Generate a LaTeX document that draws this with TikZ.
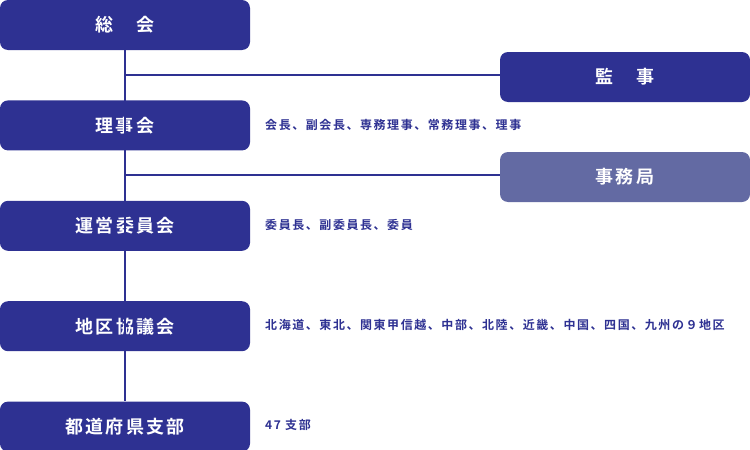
\documentclass[tikz,border=0pt]{standalone}
\usepackage{fontspec}
\usepackage{tikz}
\usetikzlibrary{positioning}
\newfontfamily\jpbold[LetterSpace=13]{Noto Sans CJK JP Bold}
\newfontfamily\jpnote[LetterSpace=13]{Noto Sans CJK JP Bold}
\definecolor{orgblue}{RGB}{46,49,146}
\definecolor{orglight}{RGB}{99,106,163}

\begin{document}
\begin{tikzpicture}[x=1pt, y=-1pt,
    orgbox/.style={rectangle, rounded corners=8pt, fill=orgblue, text=white,
        minimum width=250pt, minimum height=50pt, inner sep=0pt,
        font=\jpbold\fontsize{18}{18}\selectfont},
    note/.style={anchor=west, text=orgblue, inner sep=0pt,
        font=\jpnote\fontsize{12}{12}\selectfont},
    link/.style={draw=orgblue, line width=2pt}]
    % frame of the page
    \useasboundingbox (0,0) rectangle (750,450);

    % main column
    \node[orgbox] (sokai) at (125,25) {総　会};
    \node[orgbox, below=50pt of sokai] (rijikai) {理事会};
    \node[orgbox, below=50pt of rijikai] (unei) {運営委員会};
    \node[orgbox, below=50pt of unei] (chiku) {地区協議会};
    \node[orgbox, below=50pt of chiku] (shibu) {都道府県支部};

    % side boxes
    \node[orgbox] (kanji) at (625,77) {監　事};
    \node[orgbox, fill=orglight] (jimu) at (625,177) {事務局};

    % connectors
    \draw[link] (sokai.south) -- (shibu.north);
    \coordinate (kanjiJoint) at (125,75);
    \coordinate (jimuJoint) at (125,175);
    \draw[link] (kanjiJoint) -- (kanjiJoint -| kanji.west);
    \draw[link] (jimuJoint) -- (jimuJoint -| jimu.west);

    % members
    \node[note] (rijiNote) at (265,125) {会長、副会長、専務理事、常務理事、理事};
    \node[note] (uneiNote) at (265,225) {委員長、副委員長、委員};
    \node[note] (chikuNote) at (265,325) {北海道、東北、関東甲信越、中部、北陸、近畿、中国、四国、九州の９地区};
    \node[note] (shibuNote) at (265,425) {47 支部};
\end{tikzpicture}
\end{document}
